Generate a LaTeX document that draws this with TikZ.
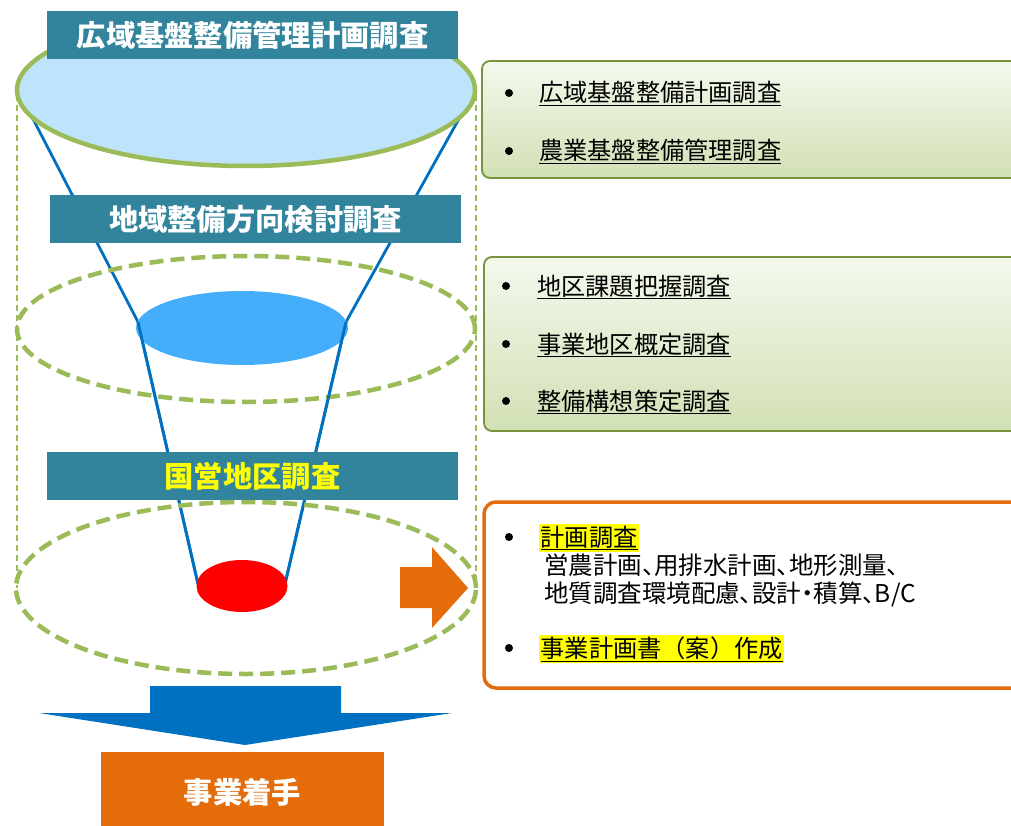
\documentclass[tikz,border=0pt]{standalone}
\usepackage{fontspec}
\newfontfamily\jp{Noto Sans CJK JP}
\newfontfamily\jpp{Noto Sans CJK JP}[RawFeature=+palt]
\usetikzlibrary{shapes.geometric}
\definecolor{teal}{HTML}{31849B}
\definecolor{lgreen}{HTML}{9BBB59}
\definecolor{dgreen}{HTML}{77933C}
\definecolor{lblue}{HTML}{BDE4FA}
\definecolor{mblue}{HTML}{45AEFA}
\definecolor{dblue}{HTML}{0070C0}
\definecolor{orng}{HTML}{E46C0A}
\definecolor{hlyel}{HTML}{FFFF00}
\newcommand\myul[1]{\underline{#1}}
\newcommand\myhl[1]{{\setlength{\fboxsep}{1.5pt}\colorbox{hlyel}{\myul{#1}}}}
\tikzset{
  titlebox/.style={fill=teal, minimum width=411pt, minimum height=48pt, inner sep=0pt, outer sep=0pt,
     text=white, font=\jp\bfseries\fontsize{29.3}{31}\selectfont},
  funnel/.style={draw=dblue, line width=2.8pt},
  dashell/.style={ellipse, draw=lgreen, line width=4.5pt, dash pattern=on 14pt off 7pt, inner sep=0pt, outer sep=0pt},
  solidell/.style={ellipse, inner sep=0pt, outer sep=0pt},
  gbox/.style={draw=dgreen, line width=1.8pt, rounded corners=8pt, top color=green!8!lgreen!10, bottom color=lgreen!45},
  item/.style={anchor=base west, inner sep=0pt, font=\jp\fontsize{24.2}{26}\selectfont, text=black},
  bul/.style={circle, fill=black, minimum size=8pt, inner sep=0pt},
  vdash/.style={draw=lgreen, line width=1.5pt, dash pattern=on 6pt off 4pt},
}
\begin{document}
\begin{tikzpicture}[x=1pt,y=-1pt]
\clip (0,0) rectangle (1011,826);
\fill[white] (0,0) rectangle (1011,826);
% vertical dashed guides
\coordinate (vl1) at (17,95); \coordinate (vl2) at (17,588);
\coordinate (vr1) at (476,95); \coordinate (vr2) at (476,588);
\draw[vdash] (vl1) -- (vl2);
\draw[vdash] (vr1) -- (vr2);
% funnel lines
\coordinate (a1) at (32,117); \coordinate (a2) at (460,117);
\coordinate (b1) at (138,322); \coordinate (b2) at (346,322);
\coordinate (c1) at (198,584); \coordinate (c2) at (285,584);
\draw[funnel] (a1) -- (b1) -- (c1);
\draw[funnel] (a2) -- (b2) -- (c2);
% top ellipse
\node[solidell, fill=lblue, draw=lgreen, line width=4.5pt, minimum width=458pt, minimum height=152pt] (top) at (246,90) {};
\node[titlebox] (t1) at (252.5,35.5) {広域基盤整備管理計画調査};
\node[titlebox] (t2) at (255.5,219) {地域整備方向検討調査};
% middle
\node[dashell, minimum width=458pt, minimum height=146pt] (mid) at (246,329) {};
\node[solidell, fill=mblue, minimum width=212pt, minimum height=74pt] (blue) at (242,328) {};
\draw[funnel] (b1) -- (c1);
\draw[funnel] (b2) -- (c2);
\node[titlebox, text=hlyel] (t3) at (252.5,476) {国営地区調査};
% bottom
\node[dashell, minimum width=460pt, minimum height=172pt] (bot) at (246,588) {};
\node[solidell, fill=red, minimum width=91pt, minimum height=52pt] (red) at (242,586) {};
% orange arrow
\fill[orng] (400,567) -- (432,567) -- (432,547) -- (468,588) -- (432,628) -- (432,608) -- (400,608) -- cycle;
% big blue arrow
\fill[dblue] (150,686) -- (341,686) -- (341,713) -- (452,713) -- (245,745) -- (39,713) -- (150,713) -- cycle;
% start box
\node[fill=orng, minimum width=283pt, minimum height=80pt, inner sep=0pt, text=white,
      font=\jp\bfseries\fontsize{29.3}{31}\selectfont] (start) at (242.5,792) {事業着手};
% right boxes
\draw[gbox] (482,61) rectangle (1030,178);
\node[bul] (p1) at (509,93) {};
\node[item] (i1) at (539,102) {\myul{広域基盤整備計画調査}};
\node[bul] (p2) at (509,151) {};
\node[item] (i2) at (539,160) {\myul{農業基盤整備管理調査}};
\draw[gbox] (484,257) rectangle (1030,431);
\node[bul] (p3) at (506,286) {};
\node[item] (i3) at (537,295) {\myul{地区課題把握調査}};
\node[bul] (p4) at (506,344) {};
\node[item] (i4) at (537,353) {\myul{事業地区概定調査}};
\node[bul] (p5) at (506,401) {};
\node[item] (i5) at (537,410) {\myul{整備構想策定調査}};
\draw[draw=orng, line width=3.5pt, rounded corners=12pt, fill=white] (484,502) rectangle (1030,688);
\node[bul] (p6) at (509,537) {};
\node[item] (i6) at (539,546) {\myhl{計画調査}};
\node[item, font=\jpp\fontsize{24.5}{26}\selectfont] (i7) at (544,574) {営農計画、用排水計画、地形測量、};
\node[item, font=\jpp\fontsize{24.5}{26}\selectfont] (i8) at (544,602) {地質調査環境配慮、設計・積算、B/C};
\node[bul] (p7) at (509,648) {};
\node[item] (i9) at (539,657) {\myhl{事業計画書（案）作成}};
\end{tikzpicture}
\end{document}
